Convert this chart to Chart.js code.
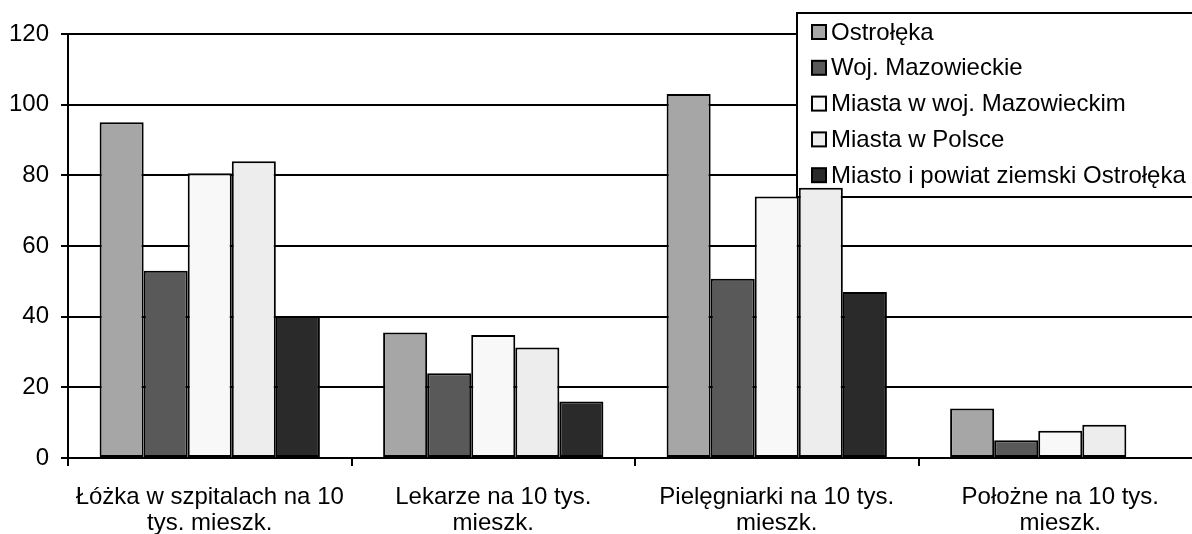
<!DOCTYPE html>
<html lang="pl">
<head>
    <meta charset="UTF-8">
    <title>Wskaźniki ochrony zdrowia</title>
    <script src="https://cdn.jsdelivr.net/npm/chart.js"></script>
    <style>
        body {
            margin: 0;
            padding: 0;
            background: #ffffff;
            overflow: hidden;
        }
        #wrap {
            width: 1192px;
            height: 534px;
            overflow: hidden;
        }
    </style>
</head>
<body>
    <div id="wrap">
        <canvas id="chart" width="1202" height="534"></canvas>
    </div>

    <script>
        // categories (two-line labels)
        const categories = [
            ["Łóżka w szpitalach na 10", "tys. mieszk."],
            ["Lekarze na 10 tys.", "mieszk."],
            ["Pielęgniarki na 10 tys.", "mieszk."],
            ["Położne na 10 tys.", "mieszk."]
        ];

        const seriesNames = [
            "Ostrołęka",
            "Woj. Mazowieckie",
            "Miasta w woj. Mazowieckim",
            "Miasta w Polsce",
            "Miasto i powiat ziemski Ostrołęka"
        ];
        const seriesColors = ["#a6a6a6", "#595959", "#f8f8f8", "#ededed", "#2a2a2a"];

        const ostroleka = [95, 35.5, 103, 14];
        const wojMazowieckie = [53, 24, 50.7, 5];
        const miastaWoj = [80.6, 34.8, 74, 7.7];
        const miastaPolska = [84, 31.3, 76.5, 9.4];
        const miastoPowiat = [40.2, 16, 47, null];

        const yTicks = [0, 20, 40, 60, 80, 100, 120];

        const seriesValues = [ostroleka, wojMazowieckie, miastaWoj, miastaPolska, miastoPowiat];
        const FONT = "'Liberation Sans', Arial, sans-serif";

        // legend box drawn inside the plot, under the bars (like the Excel original)
        const boxLegend = {
            id: "boxLegend",
            beforeDatasetsDraw(chart) {
                const c = chart.ctx;
                c.save();
                c.fillStyle = "#ffffff";
                c.strokeStyle = "#000000";
                c.lineWidth = 2;
                c.fillRect(797, 13, 420, 184);
                c.strokeRect(797, 13, 420, 184);
                c.font = "24px " + FONT;
                c.textBaseline = "middle";
                chart.data.datasets.forEach((ds, i) => {
                    const y = 32 + i * 35.8;
                    c.fillStyle = ds.backgroundColor;
                    c.fillRect(812, y - 7, 14, 14);
                    c.lineWidth = 2;
                    c.strokeRect(812, y - 7, 14, 14);
                    c.fillStyle = "#000000";
                    c.fillText(ds.label, 831, y + 1);
                });
                c.restore();
            }
        };

        const ctx = document.getElementById("chart").getContext("2d");
        new Chart(ctx, {
            type: "bar",
            data: {
                labels: categories,
                datasets: seriesNames.map((name, i) => ({
                    label: name,
                    data: seriesValues[i],
                    backgroundColor: seriesColors[i],
                    borderColor: "#000000",
                    borderWidth: 2,
                    borderSkipped: false,
                    barPercentage: 1,
                    categoryPercentage: 0.777
                }))
            },
            options: {
                responsive: false,
                animation: false,
                layout: { padding: { top: 34, right: 0, left: 0, bottom: 0 } },
                plugins: {
                    legend: { display: false },
                    tooltip: { enabled: false }
                },
                scales: {
                    x: {
                        grid: {
                            display: true,
                            offset: true,
                            drawOnChartArea: false,
                            color: "#000000",
                            lineWidth: 2,
                            tickLength: 8
                        },
                        border: { color: "#000000", width: 2 },
                        ticks: {
                            color: "#000000",
                            font: { family: FONT, size: 24, lineHeight: 1.1 },
                            padding: 18,
                            maxRotation: 0,
                            autoSkip: false
                        },
                        afterFit(scale) { scale.height = 76; }
                    },
                    y: {
                        min: 0,
                        max: 120,
                        afterBuildTicks(scale) {
                            scale.ticks = yTicks.map(v => ({ value: v }));
                        },
                        grid: {
                            color: "#000000",
                            lineWidth: 2,
                            tickLength: 7
                        },
                        border: { color: "#000000", width: 2 },
                        ticks: {
                            color: "#000000",
                            font: { family: FONT, size: 24 },
                            padding: 12
                        },
                        afterFit(scale) { scale.width = 68; }
                    }
                }
            },
            plugins: [boxLegend]
        });
    </script>
</body>
</html>
